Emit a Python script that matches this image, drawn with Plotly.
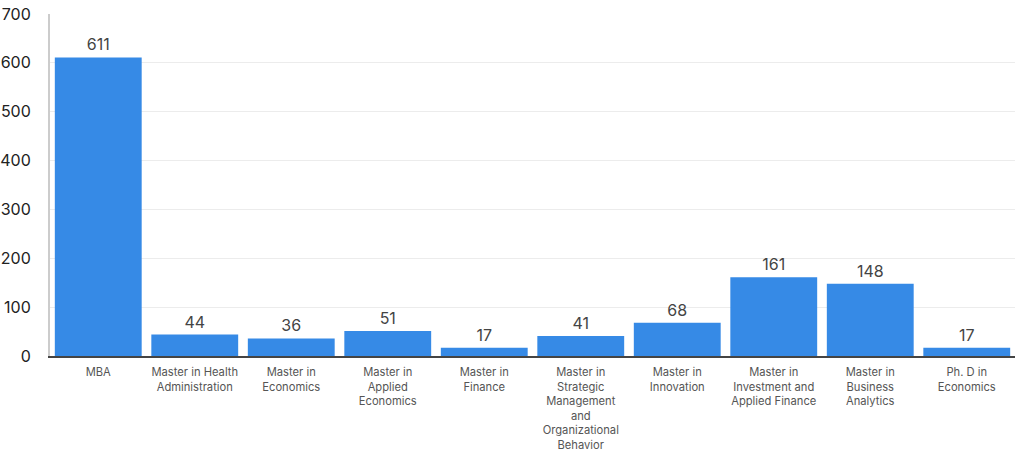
import plotly.graph_objects as go

categories = [
    "MBA",
    "Master in Health<br>Administration",
    "Master in<br>Economics",
    "Master in<br>Applied<br>Economics",
    "Master in<br>Finance",
    "Master in<br>Strategic<br>Management<br>and<br>Organizational<br>Behavior",
    "Master in<br>Innovation",
    "Master in<br>Investment and<br>Applied Finance",
    "Master in<br>Business<br>Analytics",
    "Ph. D in<br>Economics",
]
values = [611, 44, 36, 51, 17, 41, 68, 161, 148, 17]
y_ticks = [0, 100, 200, 300, 400, 500, 600, 700]

fig = go.Figure(go.Bar(
    x=categories,
    y=values,
    text=[str(v) for v in values],
    textposition="outside",
    textfont=dict(family="Inter", size=16, color="#444444"),
    marker=dict(color="#368ae6", line=dict(width=0)),
    cliponaxis=False,
    hoverinfo="skip",
))

fig.update_layout(
    width=1024,
    height=455,
    margin=dict(l=50, r=9, t=14, b=99, autoexpand=False),
    paper_bgcolor="white",
    plot_bgcolor="white",
    bargap=0.1,
    showlegend=False,
    font=dict(family="Inter", color="#222222"),
)
fig.update_xaxes(
    automargin=False,
    showgrid=False,
    showline=True,
    linecolor="#444444",
    linewidth=1.5,
    tickfont=dict(family="Inter", size=11.2, color="#555555"),
    ticks="",
    ticklabelstandoff=5,
    fixedrange=True,
)
fig.update_yaxes(
    automargin=False,
    range=[0, 700],
    tickvals=y_ticks,
    showgrid=True,
    gridcolor="#ececec",
    gridwidth=1,
    zeroline=False,
    showline=True,
    linecolor="#cccccc",
    linewidth=2,
    tickfont=dict(family="Inter", size=16, color="#222222"),
    ticklabelstandoff=14,
    fixedrange=True,
)

fig.write_html(
    "out.html",
    config={"displayModeBar": False},
    post_script="document.body.style.margin='0';document.body.style.overflow='hidden';",
)
